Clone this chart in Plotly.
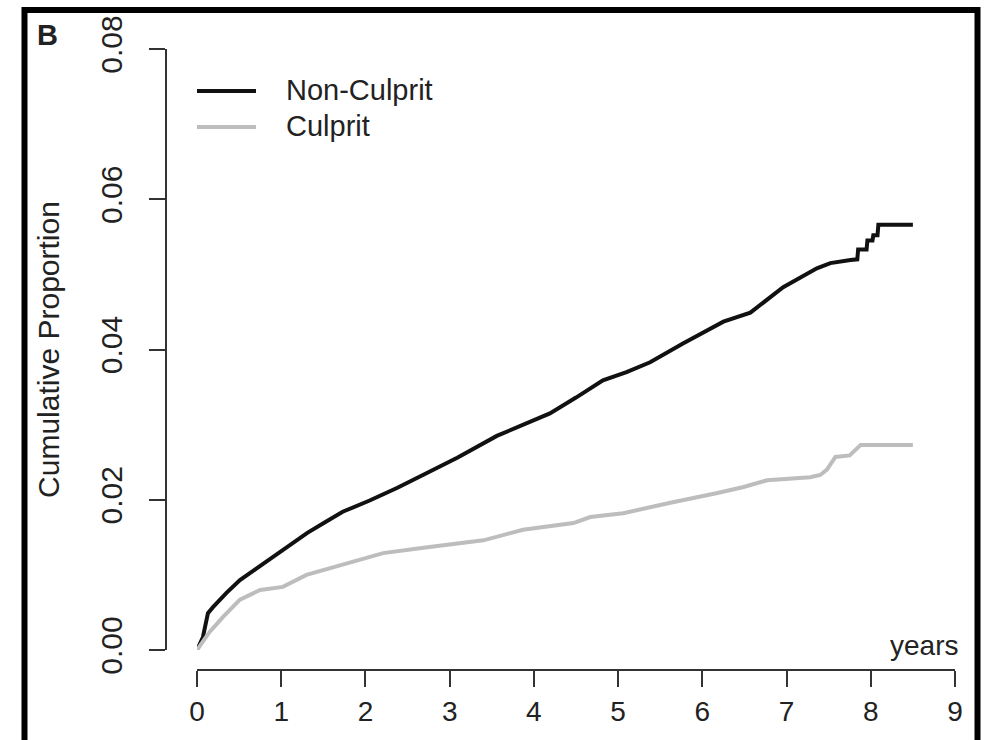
import plotly.graph_objects as go

W, H = 989, 740

# ---- data ----
non_culprit_years = [0, 0.07, 0.13, 0.19, 0.35, 0.51, 0.70, 0.90, 1.10, 1.31, 1.52, 1.73, 2.05,
                     2.38, 2.70, 3.09, 3.56, 4.19, 4.50, 4.82, 5.10, 5.38, 5.77, 6.25, 6.57, 6.96,
                     7.36, 7.52, 7.76, 7.84, 7.85, 7.95, 7.96, 8.02, 8.03, 8.08, 8.09, 8.50]
non_culprit_prop = [0, 0.0017, 0.0049, 0.0057, 0.0076, 0.0093, 0.0108, 0.0124, 0.0139, 0.0156,
                    0.0170, 0.0184, 0.0199, 0.0216, 0.0234, 0.0256, 0.0285, 0.0315, 0.0336,
                    0.0359, 0.0370, 0.0383, 0.0408, 0.0437, 0.0449, 0.0483, 0.0508, 0.0515,
                    0.0519, 0.0520, 0.0533, 0.0533, 0.0545, 0.0545, 0.0552, 0.0552, 0.0566, 0.0566]

culprit_years = [0, 0.15, 0.31, 0.51, 0.75, 1.02, 1.30, 1.70, 2.21, 2.69, 3.40, 3.87, 4.47, 4.67,
                 5.06, 5.62, 5.89, 6.18, 6.49, 6.77, 7.28, 7.40, 7.48, 7.58, 7.75, 7.88, 8.50]
culprit_prop = [0, 0.0024, 0.0044, 0.0067, 0.0080, 0.0084, 0.0100, 0.0113, 0.0129, 0.0136,
                0.0146, 0.0160, 0.0169, 0.0177, 0.0182, 0.0196, 0.0202, 0.0209, 0.0217, 0.0226,
                0.0230, 0.0233, 0.0240, 0.0257, 0.0259, 0.0273, 0.0273]

x_ticks = [0, 1, 2, 3, 4, 5, 6, 7, 8, 9]
y_ticks = [0.00, 0.02, 0.04, 0.06, 0.08]
y_tick_labels = ["0.00", "0.02", "0.04", "0.06", "0.08"]
series_names = ["Non-Culprit", "Culprit"]
series_colors = ["#111111", "#bdbdbd"]

FONT = "Liberation Sans, Arial, Helvetica, sans-serif"
TXT = "#222222"

def px(x):
    return x / W

def py(y):
    return 1 - y / H

fig = go.Figure()
fig.add_trace(go.Scatter(x=non_culprit_years, y=non_culprit_prop, mode="lines",
                         name=series_names[0], line=dict(color=series_colors[0], width=4)))
fig.add_trace(go.Scatter(x=culprit_years, y=culprit_prop, mode="lines",
                         name=series_names[1], line=dict(color=series_colors[1], width=4)))

fig.update_layout(
    width=W, height=H,
    margin=dict(l=0, r=0, t=0, b=0),
    paper_bgcolor="white", plot_bgcolor="white",
    showlegend=False,
    font=dict(family=FONT, color=TXT, size=28),
    xaxis=dict(domain=[px(197), px(955)], range=[0, 9], anchor="free", position=py(670),
               tickvals=x_ticks, ticks="outside", ticklen=16, tickwidth=2, tickcolor="#333",
               showline=True, linecolor="#333", linewidth=2, showgrid=False, zeroline=False,
               tickfont=dict(family=FONT, size=28, color=TXT), ticklabelstandoff=0,
               automargin=False),
    yaxis=dict(domain=[py(650), py(49)], range=[0, 0.08], anchor="free", position=px(166),
               tickvals=y_ticks, ticktext=y_tick_labels, tickangle=-90,
               ticks="outside", ticklen=16, tickwidth=2, tickcolor="#333",
               showline=True, linecolor="#333", linewidth=2, showgrid=False, zeroline=False,
               tickfont=dict(family=FONT, size=30, color=TXT), ticklabelstandoff=15,
               title=dict(text="Cumulative Proportion", font=dict(family=FONT, size=30, color=TXT),
                          standoff=26),
               automargin=False),
)

shapes = [
    # outer frame
    dict(type="rect", xref="paper", yref="paper", x0=px(24.5), x1=px(977.5), y0=-0.05, y1=py(10),
         line=dict(color="black", width=6), fillcolor="rgba(0,0,0,0)", layer="above"),
    # legend samples
    dict(type="line", xref="paper", yref="paper", x0=px(197), x1=px(256), y0=py(91), y1=py(91),
         line=dict(color=series_colors[0], width=4)),
    dict(type="line", xref="paper", yref="paper", x0=px(197), x1=px(256), y0=py(127), y1=py(127),
         line=dict(color=series_colors[1], width=4)),
]
fig.update_layout(shapes=shapes)

annotations = [
    dict(text="<b>B</b>", x=px(47), y=py(35), xref="paper", yref="paper", showarrow=False,
         xanchor="center", yanchor="middle", font=dict(family=FONT, size=29, color=TXT)),
    dict(text=series_names[0], x=px(284), y=py(90), xref="paper", yref="paper", showarrow=False,
         xanchor="left", yanchor="middle", font=dict(family=FONT, size=29, color=TXT)),
    dict(text=series_names[1], x=px(284), y=py(126), xref="paper", yref="paper", showarrow=False,
         xanchor="left", yanchor="middle", font=dict(family=FONT, size=29, color=TXT)),
    dict(text="years", x=px(960), y=py(645), xref="paper", yref="paper", showarrow=False,
         xanchor="right", yanchor="middle", font=dict(family=FONT, size=28, color=TXT)),
]
fig.update_layout(annotations=annotations)

fig.write_html("out.html")
